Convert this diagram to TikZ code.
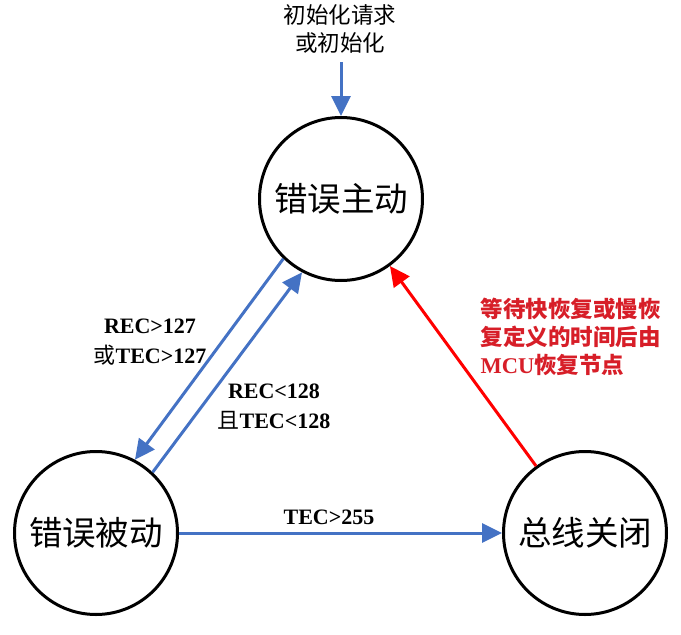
\documentclass[tikz,border=0pt]{standalone}
\usepackage{fontspec}
\setmainfont{Liberation Serif}
\newfontfamily\cjk{Noto Sans CJK SC}
\usepackage{xcolor}
\usetikzlibrary{arrows.meta}
\definecolor{linkblue}{RGB}{68,114,196}
\definecolor{busred}{RGB}{255,0,0}
\definecolor{notered}{RGB}{215,30,40}

\begin{document}
\begin{tikzpicture}[
        x=1pt, y=-1pt,
        >={Triangle[length=20pt, width=19pt]},
        % Styles
        statenode/.style={circle, draw, line width=3pt, minimum size=163pt,
                inner sep=0pt, font=\cjk\fontsize{33.5}{33.5}\selectfont},
        arrow/.style={->, line width=3pt, linkblue},
        redarrow/.style={->, line width=3pt, busred},
        initlab/.style={align=center, font=\cjk\fontsize{22.5}{28}\selectfont},
        condlab/.style={align=center, font=\bfseries\fontsize{22}{30}\selectfont},
        notelab/.style={align=left, anchor=west, text=notered,
                font=\bfseries\fontsize{22.5}{28}\selectfont}, ]

        \useasboundingbox (0,0) rectangle (681,635);

        % === STATES ===
        \node[statenode] (active) at (341,199) {错误主动};
        \node[statenode] (passive) at (96,533) {错误被动};
        \node[statenode] (busoff) at (585,533) {总线关闭};

        % === INIT ===
        \node[initlab] (init) at (340,29) {初始化请求\\或初始化};
        \coordinate (initend) at (341,62);
        \draw[arrow] (initend) -- (active.north);

        % Active <-> Passive
        \draw[arrow] (active.226) -- (passive.62);
        \draw[arrow] (passive.47) -- (active.242);
        \node[condlab] (topassive) at (150,342) {REC>127\\{\cjk\mdseries 或}TEC>127};
        \node[condlab] (toactive) at (274,407) {REC<128\\{\cjk\mdseries 且}TEC<128};

        % Passive -> Bus off
        \draw[arrow] (passive) -- (busoff);
        \node[condlab] (tobusoff) at (329,517) {TEC>255};

        % Bus off -> Active
        \draw[redarrow] (busoff) -- (active);
        \node[notelab] (recover) at (477,337) {{\cjk 等待快恢复或慢恢}\\{\cjk 复定义的时间后由}\\MCU{\cjk 恢复节点}};

    \end{tikzpicture}
\end{document}
